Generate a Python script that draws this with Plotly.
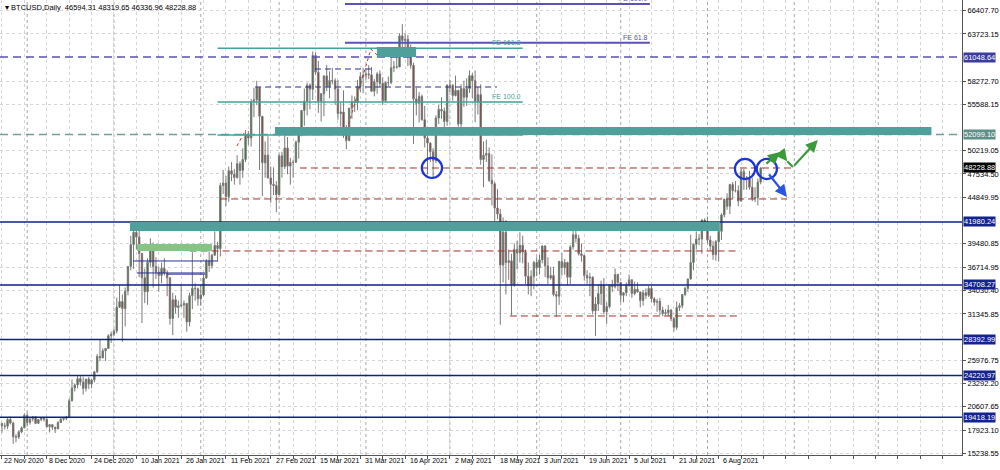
import pandas as pd
import plotly.graph_objects as go

# ---------------- data (daily BTCUSD, 22 Nov 2020 -> 20 Aug 2021) ----------------
first_date = "2020-11-22"
first_open = 18680
close = [
    # Nov 22-30
    18420, 18370, 19160, 18730, 17150, 17110, 17720, 18180, 19630,
    # Dec
    18800, 19200, 19450, 18700, 19150, 19360, 19170, 18320, 18550, 18260, 18060, 18800, 19170, 19270, 19440,
    21310, 22800, 23140, 23870, 23480, 22750, 23820, 23240, 23730, 24660, 26440, 26280, 27080, 27360, 28840, 29000,
    # Jan
    29370, 32130, 32780, 31970, 33990, 36820, 39370, 40800, 40250, 38350, 35540, 33920, 37320, 39190, 36830,
    36180, 35790, 36630, 36070, 35540, 30830, 33000, 32100, 32290, 32370, 32570, 30430, 33470, 34320, 34270, 33110,
    # Feb
    33540, 35510, 37470, 36930, 38140, 39270, 38900, 46200, 46480, 44920, 47910, 47500, 47110, 48720, 47940,
    49200, 52150, 51680, 55890, 56100, 57530, 54200, 48820, 49710, 47080, 46340, 46190, 45140,
    # Mar
    49630, 48380, 50540, 48440, 48860, 48880, 51210, 52380, 54880, 55960, 57800, 57330, 61240, 59300, 55960,
    56800, 58870, 57640, 58340, 58300, 57350, 54530, 54700, 52300, 51400, 55140, 55900, 55800, 57630, 58800, 58960,
    # Apr
    59100, 59000, 57100, 58200, 59100, 58000, 56000, 58100, 58100, 59800, 59900, 59900, 63500, 62970, 63100,
    61500, 60100, 56200, 55700, 56500, 53800, 51700, 51100, 50100, 49100, 54000, 55000, 54800, 53600, 57800,
    # May
    57800, 56600, 57200, 53300, 57400, 56400, 57400, 58900, 58300, 55900, 56700, 49200, 49700, 49900, 46800,
    46400, 43600, 42900, 37000, 40800, 37300, 37500, 34700, 38800, 38400, 39300, 38500, 35700, 34600, 35700, 37300,
    # Jun
    36700, 37600, 39200, 36900, 35500, 35800, 33600, 33400, 37400, 36700, 37300, 35600, 39100, 40500, 40100,
    38300, 38100, 35800, 35500, 35600, 31700, 32500, 33700, 34700, 31600, 32200, 34700, 34500, 35900, 35000,
    # Jul
    33500, 33800, 34700, 35300, 33700, 34200, 33900, 32900, 33800, 33500, 34300, 33100, 32700, 32800, 31800,
    31400, 31500, 31800, 30800, 29800, 32100, 32300, 33600, 34300, 35400, 37300, 39400, 40000, 40000, 42200, 41600,
    # Aug 1-20
    39900, 39200, 38200, 39700, 40900, 42800, 44600, 43800, 46300, 45600, 45600, 44400, 47800, 47100, 47000,
    46000, 44700, 44800, 46594.31, 48228.88,
]
high = [
    18780, 18770, 19420, 19480, 18900, 17450, 17860, 18350, 19860,
    19920, 19310, 19560, 19520, 19190, 19420, 19410, 19300, 18640, 18570, 18280, 18950, 19400, 19350, 19570,
    21560, 23770, 23280, 24170, 24290, 24100, 23850, 24080, 23780, 24760, 26720, 28380, 27380, 27400, 28990, 29310,
    29600, 33250, 34700, 33600, 34410, 36900, 40380, 41950, 41360, 41400, 38300, 36600, 37800, 40100, 39600,
    37900, 36800, 37300, 37800, 36400, 35600, 33800, 33500, 32900, 34800, 32900, 32600, 33800, 38500, 34900, 34400,
    34700, 35900, 37700, 38600, 38300, 40900, 39700, 46500, 48000, 47300, 48400, 48900, 48100, 49700, 49000,
    50500, 52600, 52500, 56200, 57500, 58300, 57500, 54200, 51300, 51900, 48400, 48300, 46700,
    49800, 50100, 52600, 51800, 49400, 49200, 51400, 52400, 54900, 57400, 58100, 58000, 61700, 61600, 60600,
    56900, 58900, 60100, 59400, 59800, 58600, 58400, 55800, 57200, 53200, 55100, 56600, 56500, 58400, 59300, 59800,
    59500, 60100, 59900, 58500, 59300, 59500, 58700, 58200, 58800, 61300, 60600, 61200, 63800, 64850, 63800,
    63600, 62500, 60400, 57500, 57000, 56700, 55400, 52100, 51200, 50500, 54300, 55500, 56400, 55200, 57900,
    58400, 57900, 58900, 57100, 57900, 58300, 58600, 59500, 59200, 59500, 57600, 57900, 51300, 51500, 50600,
    49800, 46600, 45800, 43500, 42500, 42200, 38800, 38300, 39500, 39800, 40800, 40400, 38800, 37300, 36400, 37500,
    37900, 38200, 39300, 39300, 37900, 36800, 36800, 34000, 37500, 38400, 37700, 37400, 39300, 41000, 41300,
    40500, 39500, 38200, 36400, 36100, 35700, 33300, 34800, 35200, 35500, 32700, 34700, 35300, 36600, 36000,
    35000, 33900, 35000, 35900, 35300, 35100, 35000, 33900, 34100, 34300, 34600, 34600, 33300, 33100, 33200,
    32200, 31900, 32400, 31900, 31000, 32800, 32600, 33600, 34500, 35400, 40500, 39500, 40900, 40600, 42300, 42400,
    42600, 40400, 39800, 39900, 41400, 43000, 44700, 45300, 46400, 46600, 46700, 46200, 48100, 48100, 47300,
    47900, 47100, 46000, 47000, 48319.65,
]
low = [
    17620, 18000, 18030, 18570, 16330, 16510, 16890, 17530, 18180,
    18330, 18550, 18920, 18610, 18630, 18950, 18910, 18210, 17650, 17940, 17580, 18030, 18730, 19000, 19060,
    19290, 21230, 22380, 22760, 23060, 22020, 22390, 22680, 22760, 23440, 24520, 25880, 26200, 25900, 27340, 28000,
    28800, 29100, 32050, 28130, 29900, 33500, 36400, 36570, 38800, 35600, 30300, 32600, 32400, 36800, 34400,
    35400, 33900, 34900, 35800, 33400, 30100, 28900, 31400, 30900, 32100, 30900, 29300, 29900, 31900, 32900, 32300,
    32300, 33400, 35400, 36200, 36600, 38100, 37400, 38000, 45200, 43800, 44300, 46700, 46300, 47000, 46300,
    47100, 48900, 50900, 50700, 54100, 55500, 48000, 45000, 47100, 47000, 44200, 45100, 43100,
    45100, 47100, 48100, 47500, 46300, 47100, 48900, 49300, 51900, 53100, 54300, 55000, 56100, 59000, 54600,
    53600, 54200, 57100, 56300, 57900, 55500, 53800, 53000, 51700, 50400, 51300, 53900, 54700, 54900, 57000, 56900,
    58400, 58500, 57000, 56500, 56800, 57600, 55500, 55800, 57700, 57900, 59300, 59700, 59900, 61300, 62100,
    60000, 59700, 51000, 54300, 53500, 53700, 50600, 47500, 48900, 47000, 48800, 53300, 53900, 52400, 53100,
    57000, 56000, 56500, 53000, 52900, 55300, 55400, 56900, 56300, 53500, 54400, 48600, 46000, 48900, 46600,
    43900, 42100, 42300, 30100, 35000, 33600, 35300, 31200, 34500, 36500, 37300, 37200, 34800, 33600, 33400, 34200,
    35700, 35900, 37200, 35600, 34800, 35300, 33400, 31000, 32400, 35800, 35900, 34700, 34800, 38800, 39600,
    38100, 37400, 35200, 34800, 33400, 31300, 28800, 31700, 32400, 31300, 30200, 32000, 33900, 34300, 34000,
    32700, 32700, 33400, 34500, 33200, 33500, 33800, 32100, 32300, 33100, 33300, 32700, 32300, 31600, 31200,
    31100, 31200, 31100, 30500, 29300, 29500, 31700, 32000, 33400, 33900, 35300, 36400, 38800, 39300, 38300, 41100,
    39500, 38700, 37600, 37500, 37400, 39900, 42500, 43400, 42900, 44700, 45400, 43800, 44300, 45700, 45700,
    45700, 44400, 44300, 43900, 46336.96,
]

# right price scale
price_ticks = [66407.70, 63723.15, 58272.70, 55588.15, 50219.05, 47534.50, 44849.95, 39480.85,
               36714.95, 34030.40, 31345.85, 25976.75, 23292.20, 20607.65, 17923.10, 15238.55]
price_range = [15042, 67644]

# date labels on the time scale
date_labels = ["22 Nov 2020", "8 Dec 2020", "24 Dec 2020", "10 Jan 2021", "26 Jan 2021", "11 Feb 2021",
               "27 Feb 2021", "15 Mar 2021", "31 Mar 2021", "16 Apr 2021", "2 May 2021", "18 May 2021",
               "3 Jun 2021", "19 Jun 2021", "5 Jul 2021", "21 Jul 2021", "6 Aug 2021"]
x_range = ["2020-11-21 07:00", "2021-10-30 22:00"]

# horizontal levels across the chart
levels_solid = [41980.24, 34708.27, 28392.99, 24220.97, 19418.19]
level_dash_top = 61048.64
level_dash_mid = 52099.10
last_price = 48228.88

# rectangles (start, end, low, high, colour)
zones = [
    ("2021-02-27 12:00", "2021-10-20 00:00", 52050, 52950, "#4f9f9a"),
    ("2021-01-06 17:00", "2021-08-05 10:00", 40950, 41980, "#4f9f9a"),
    ("2021-01-09 05:00", "2021-02-05 00:00", 38630, 39440, "#86c486"),
    ("2021-04-04 22:00", "2021-04-18 22:00", 61055, 62210, "#4f9f9a"),
]
# Fibonacci expansion levels
fe_teal = [(62060, "FE 161.8"), (55852, "FE 100.0"), (52038, "FE 61.8")]
fe_teal_span = ("2021-02-07 00:00", "2021-05-27 00:00")
fe_purple = [(62708, "FE 61.8"), (67182, "FE 100.0")]
fe_purple_span = ("2021-03-24 12:00", "2021-07-11 10:00")
# short dashed navy lines (price, start, end)
navy_dashed = [(59668, "2021-03-13 19:00", "2021-04-03 00:00"),
               (57587, "2021-02-20 10:00", "2021-05-17 19:00"),
               (52847, "2021-03-09 12:00", "2021-05-17 19:00")]
# dashed red lines
red_dashed = [(48223, "2021-03-08 10:00", "2021-08-31 12:00"),
              (44640, "2021-02-07 22:00", "2021-08-29 10:00"),
              (38630, "2021-01-28 00:00", "2021-08-12 14:00"),
              (31114, "2021-05-22 10:00", "2021-08-12 14:00")]
# thin navy lines in the January range
navy_thin = [(37472, "2021-01-07 19:00", "2021-02-07 00:00"),
             (36085, "2021-01-09 05:00", "2021-02-02 12:00"),
             (35950, "2021-01-20 00:00", "2021-02-02 12:00")]
# dotted red zigzags
zig1_x = ["2021-02-13 22:00", "2021-02-17 02:00"]
zig1_y = [50766, 52616]
zig2_x = ["2021-03-25 05:00", "2021-04-02 19:00", "2021-04-05 00:00"]
zig2_y = [52616, 61980, 61286]
# circles (centre date, centre price)
circles = [("2021-04-24 14:00", 48223), ("2021-08-14 10:00", 48107), ("2021-08-22 05:00", 48107)]
circle_r_days = 3.6
circle_r_price = 1160
# arrows (tail date, tail price, head date, head price, colour)
arrows = [
    ("2021-08-22 14:00", 47645, "2021-08-29 10:00", 44870, "#2a55e0"),
    ("2021-08-21 12:00", 48570, "2021-08-26 22:00", 50073, "#3c9a3c"),
    ("2021-08-26 22:00", 50073, "2021-08-29 12:00", 49000, "#3c9a3c"),
    ("2021-08-31 12:00", 48339, "2021-09-09 10:00", 51460, "#3c9a3c"),
]
arrow_lines = [("2021-08-29 12:00", 49000, "2021-08-31 12:00", 48339, "#3c9a3c")]

# ---------------- figure ----------------
dates = pd.date_range(first_date, periods=len(close), freq="D")
opens = [first_open] + close[:-1]

FONT = "Liberation Sans"
NAVY = "#0f1f8f"

fig = go.Figure()
fig.add_trace(go.Candlestick(
    x=dates, open=opens, high=high, low=low, close=close,
    increasing=dict(line=dict(color="#7a7a7a", width=1), fillcolor="#1d6e1d"),
    decreasing=dict(line=dict(color="#7a7a7a", width=1), fillcolor="#8e1c1c"),
    whiskerwidth=0, showlegend=False, hoverinfo="skip",
))

shapes = []
# month separators
for d in pd.date_range("2020-12-01", "2021-10-01", freq="MS"):
    shapes.append(dict(type="line", xref="x", yref="paper", x0=d, x1=d, y0=0, y1=1,
                       line=dict(color="#a8a8a8", width=1, dash="dot"), layer="below"))

def hline(y, x0, x1, color, width, dash="solid", xref="x"):
    shapes.append(dict(type="line", xref=xref, yref="y", x0=x0, x1=x1, y0=y, y1=y,
                       line=dict(color=color, width=width, dash=dash), layer="above"))

hline(level_dash_mid, 0, 1, "#6f9f98", 1.5, "8px,5px", xref="paper")
hline(level_dash_top, 0, 1, "#5a52b4", 1.5, "8px,5px", xref="paper")
for lv in levels_solid:
    hline(lv, 0, 1, NAVY, 1.5, xref="paper")
for p, lab in fe_teal:
    hline(p, fe_teal_span[0], fe_teal_span[1], "#45a29a", 1.5)
for p, lab in fe_purple:
    hline(p, fe_purple_span[0], fe_purple_span[1], "#5a52b4", 2)
for p, a, b in navy_dashed:
    hline(p, a, b, "#27308f", 1.2, "6px,4px")
for p, a, b in red_dashed:
    hline(p, a, b, "#a3302a", 1, "7px,4px")
for p, a, b in navy_thin:
    hline(p, a, b, "#2b2f9a", 1)
for a, b, lo, hi, col in zones:
    shapes.append(dict(type="rect", xref="x", yref="y", x0=a, x1=b, y0=lo, y1=hi,
                       fillcolor=col, line=dict(width=0), layer="above"))
for c, p in circles:
    cd = pd.Timestamp(c)
    shapes.append(dict(type="circle", xref="x", yref="y",
                       x0=cd - pd.Timedelta(days=circle_r_days), x1=cd + pd.Timedelta(days=circle_r_days),
                       y0=p - circle_r_price, y1=p + circle_r_price,
                       line=dict(color="#1b34d6", width=2.2), layer="above"))
for a, pa, b, pb, col in arrow_lines:
    shapes.append(dict(type="line", xref="x", yref="y", x0=a, x1=b, y0=pa, y1=pb,
                       line=dict(color=col, width=2.2), layer="above"))

fig.add_trace(go.Scatter(x=zig1_x, y=zig1_y, mode="lines", line=dict(color="#c0392b", width=1, dash="dot"),
                         showlegend=False, hoverinfo="skip"))
fig.add_trace(go.Scatter(x=zig2_x, y=zig2_y, mode="lines", line=dict(color="#c0392b", width=1, dash="dot"),
                         showlegend=False, hoverinfo="skip"))

annotations = []
# FE labels
for p, lab in fe_teal[:2]:
    annotations.append(dict(x=fe_teal_span[1], y=p, xref="x", yref="y", text=lab, showarrow=False,
                            xanchor="right", yanchor="bottom", font=dict(family=FONT, size=7, color="#45a29a")))
for p, lab in fe_purple:
    annotations.append(dict(x=fe_purple_span[1], y=p, xref="x", yref="y", text=lab, showarrow=False,
                            xanchor="right", yanchor="bottom", font=dict(family=FONT, size=7, color="#5a52b4")))
# arrows
for a, pa, b, pb, col in arrows:
    annotations.append(dict(x=b, y=pb, ax=a, ay=pa, xref="x", yref="y", axref="x", ayref="y",
                            showarrow=True, arrowhead=2, arrowsize=1.1, arrowwidth=2.2, arrowcolor=col,
                            standoff=0, startstandoff=0, text=""))
# price labels with background on the right scale
label_boxes = [(level_dash_top, "#3b3ba0"), (level_dash_mid, "#5f8f89"), (last_price, "#000000")] + \
              [(lv, "#14238f") for lv in levels_solid]
for p, col in label_boxes:
    annotations.append(dict(x=1, y=p, xref="paper", yref="y", text=f"{p:.2f}", showarrow=False,
                            xanchor="left", yanchor="middle", xshift=1, bgcolor=col, borderpad=0,
                            font=dict(family=FONT, size=7.5, color="white")))
# date labels, left aligned at their bar
for lab in date_labels:
    annotations.append(dict(x=pd.to_datetime(lab, format="%d %b %Y"), y=0, xref="x", yref="paper",
                            text=lab, showarrow=False, xanchor="left", yanchor="top", xshift=0, yshift=0,
                            font=dict(family=FONT, size=7, color="#000000")))
# title
annotations.append(dict(x=0, y=1, xref="paper", yref="paper", xanchor="left", yanchor="top", xshift=3, yshift=-1,
                        text="▾ BTCUSD,Daily  46594.31 48319.65 46336.96 48228.88", showarrow=False,
                        font=dict(family=FONT, size=7.5, color="#000000")))

grid_vals = pd.date_range(first_date, x_range[1], freq="8D")

fig.update_layout(
    width=1000, height=470, autosize=False,
    margin=dict(l=0, r=38, t=0, b=15),
    paper_bgcolor="white", plot_bgcolor="white",
    shapes=shapes, annotations=annotations, showlegend=False,
    xaxis=dict(type="date", range=x_range, rangeslider=dict(visible=False),
               tickvals=grid_vals, showticklabels=False, ticks="outside", ticklen=3, tickcolor="#555",
               showgrid=True, gridcolor="#d6d6d6", griddash="dot", gridwidth=1,
               showline=True, linecolor="#555", linewidth=1, mirror=True, zeroline=False),
    yaxis=dict(side="right", range=price_range, tickvals=price_ticks,
               ticktext=[f"{v:.2f}" for v in price_ticks], ticks="outside", ticklen=3, tickcolor="#555",
               tickfont=dict(family=FONT, size=7.5, color="#000000"),
               showgrid=True, gridcolor="#d6d6d6", griddash="dot", gridwidth=1,
               showline=True, linecolor="#555", linewidth=1, mirror=True, zeroline=False),
)

fig.write_html("out.html", config={"displayModeBar": False},
               post_script="document.body.style.margin='0';document.body.style.overflow='hidden';")
